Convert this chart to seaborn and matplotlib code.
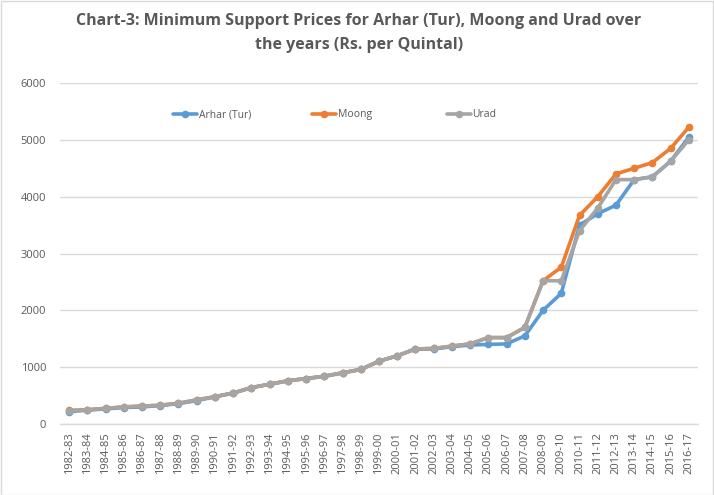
import matplotlib
matplotlib.use("Agg")
import matplotlib.pyplot as plt
import seaborn as sns
import pandas as pd
import numpy as np
from matplotlib.patches import Rectangle

years = ["1982-83", "1983-84", "1984-85", "1985-86", "1986-87", "1987-88", "1988-89",
         "1989-90", "1990-91", "1991-92", "1992-93", "1993-94", "1994-95", "1995-96",
         "1996-97", "1997-98", "1998-99", "1999-00", "2000-01", "2001-02", "2002-03",
         "2003-04", "2004-05", "2005-06", "2006-07", "2007-08", "2008-09", "2009-10",
         "2010-11", "2011-12", "2012-13", "2013-14", "2014-15", "2015-16", "2016-17"]

arhar = [215, 245, 265, 290, 300, 325, 360, 410, 480, 545, 640, 700, 760, 800, 840,
         900, 960, 1105, 1200, 1320, 1320, 1360, 1390, 1400, 1410, 1550, 2000, 2300,
         3500, 3700, 3850, 4300, 4350, 4625, 5050]
moong = [240, 250, 275, 300, 315, 330, 365, 425, 480, 545, 640, 700, 760, 800, 840,
         900, 960, 1105, 1200, 1320, 1330, 1370, 1410, 1520, 1520, 1700, 2520, 2760,
         3670, 4000, 4400, 4500, 4600, 4850, 5225]
urad = [230, 250, 275, 300, 315, 330, 365, 425, 480, 545, 640, 700, 760, 800, 840,
        900, 960, 1105, 1200, 1320, 1330, 1370, 1410, 1520, 1520, 1700, 2520, 2520,
        3400, 3800, 4300, 4300, 4350, 4625, 5000]

series_names = ["Arhar (Tur)", "Moong", "Urad"]
colors = ["#5B9BD5", "#ED7D31", "#A5A5A5"]
y_ticks = [0, 1000, 2000, 3000, 4000, 5000, 6000]
title = "Chart-3: Minimum Support Prices for Arhar (Tur), Moong and Urad over\nthe years (Rs. per Quintal)"

sns.set_theme(style="white")
plt.rcParams['font.family'] = ['Open Sans', 'DejaVu Sans']

fig = plt.figure(figsize=(7.14, 4.95), dpi=100)
ax = fig.add_axes([60/714, 1 - 424/495, 638/714, (424 - 83)/495])

idx = np.arange(len(years))
for name, vals, c in zip(series_names, [arhar, moong, urad], colors):
    df = pd.DataFrame({"x": idx, "y": vals})
    sns.lineplot(data=df, x="x", y="y", ax=ax, color=c, linewidth=2.6,
                 marker="o", markersize=5.5, markeredgewidth=0, label=name)

ax.set_xlim(-0.5, len(years) - 0.5)
ax.set_ylim(0, 6000)
ax.set_yticks(y_ticks)
ax.set_yticklabels([str(v) for v in y_ticks])
ax.set_xticks(idx)
ax.set_xticklabels(years, rotation=90)
ax.set_xlabel("")
ax.set_ylabel("")
ax.grid(axis="y", color="#D9D9D9", linewidth=1)
ax.set_axisbelow(True)
for s in ["top", "right", "left"]:
    ax.spines[s].set_visible(False)
ax.spines["bottom"].set_color("#D9D9D9")
ax.spines["bottom"].set_linewidth(1)
ax.tick_params(axis="both", length=0, colors="#595959", labelsize=8)
ax.tick_params(axis="y", pad=10)
ax.tick_params(axis="x", pad=6)

# legend: one entry per evenly spaced slot, like the reference
handles, labels = ax.get_legend_handles_labels()
if ax.get_legend() is not None:
    ax.get_legend().remove()
starts = [173, 312, 447]
for h, l, x0 in zip(handles, labels, starts):
    fig.legend([h], [l], loc="center left", bbox_to_anchor=(x0/714, 1 - 115/495),
               bbox_transform=fig.transFigure, frameon=False, fontsize=7.5,
               handlelength=2.3, handletextpad=0.15, borderpad=0,
               borderaxespad=0, labelcolor="#595959")

fig.text(359/714, 1 - 33/495, title, ha="center", va="center",
         fontsize=11.5, fontweight="bold", color="#595959", linespacing=1.65)

fig.patches.append(Rectangle((0.001, 0.001), 0.997, 0.997, transform=fig.transFigure,
                             fill=False, edgecolor="#D9D9D9", linewidth=1))

fig.savefig("out.png", dpi=100)
